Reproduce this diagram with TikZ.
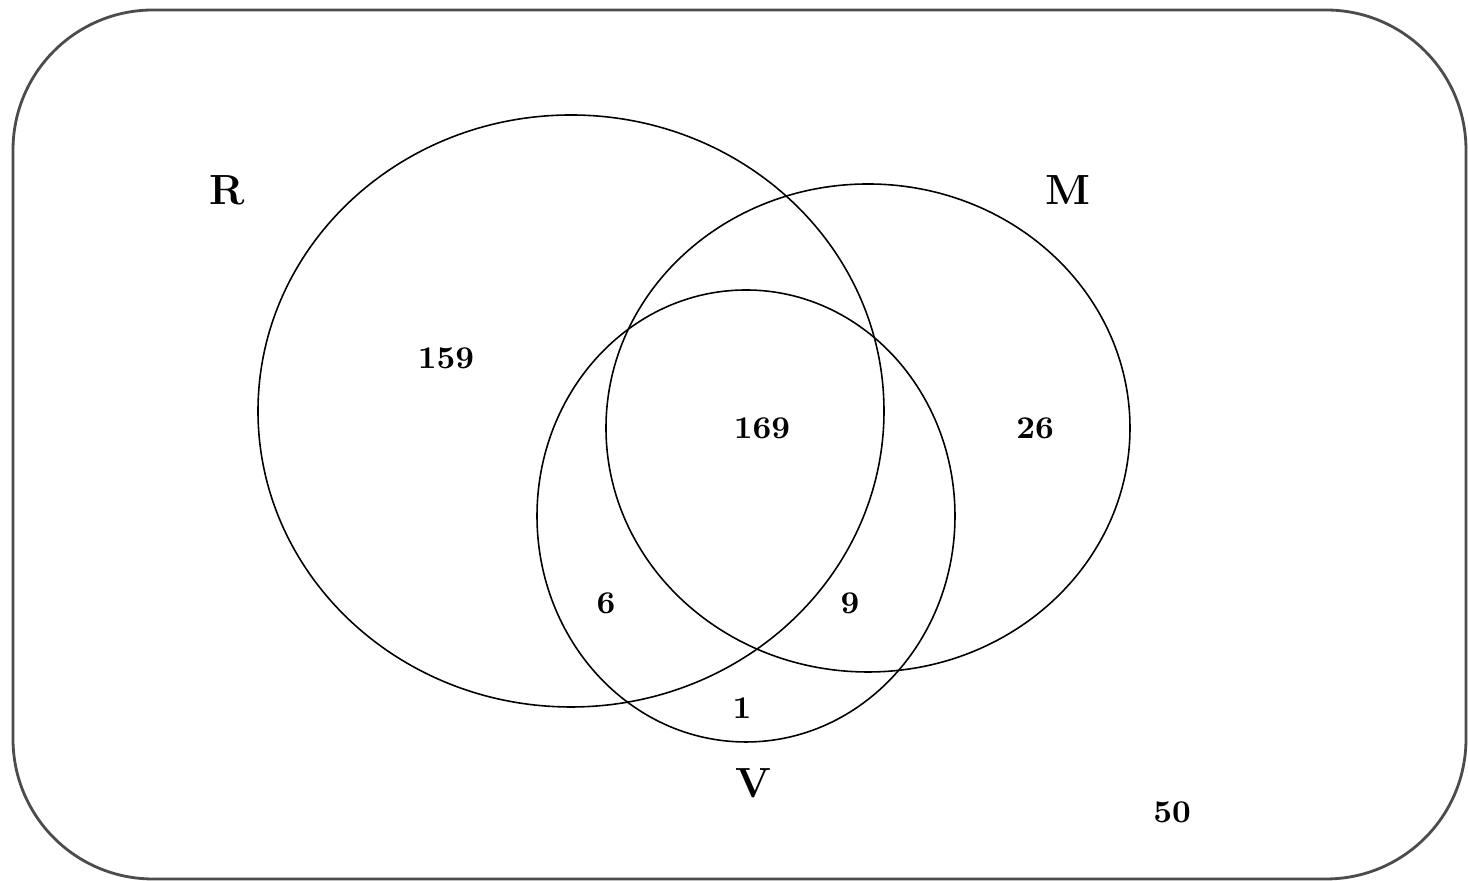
\documentclass[tikz,border=0pt]{standalone}
\usepackage{tikz}
\usetikzlibrary{positioning}

\begin{document}
\begin{tikzpicture}[
  setline/.style={draw=black, line width=0.45pt},
  setname/.style={font=\fontsize{12}{14}\selectfont\bfseries, inner sep=0pt},
  count/.style={font=\fontsize{9}{11}\selectfont\bfseries, inner sep=0pt}
]
  \useasboundingbox (0,0) rectangle (14.68,8.81);
  % universe
  \draw[draw=black!70, line width=0.8pt, rounded corners=1.4cm]
    (0.13,0.02) rectangle (14.66,8.71);
  % sets
  \coordinate (cR) at (5.71, 4.70);
  \coordinate (cM) at (8.68, 4.53);
  \coordinate (cV) at (7.46, 3.65);
  \draw[setline] (cR) ellipse [x radius=3.13, y radius=2.96];
  \draw[setline] (cM) ellipse [x radius=2.62, y radius=2.44];
  \draw[setline] (cV) ellipse [x radius=2.09, y radius=2.26];
  % set names
  \node[setname] (nR) at (2.27, 6.91) {R};
  \node[setname] (nM) at (10.68, 6.91) {M};
  \node[setname] (nV) at (7.53, 0.98) {V};
  % region counts
  \node[count] (rOnly)  at (4.46, 5.23) {159};
  \node[count] (rmv)    at (7.62, 4.53) {169};
  \node[count] (mOnly)  at (10.35, 4.53) {26};
  \node[count] (rv)     at (6.06, 2.78) {6};
  \node[count] (mv)     at (8.50, 2.78) {9};
  \node[count] (vOnly)  at (7.42, 1.73) {1};
  \node[count] (none)   at (11.72, 0.69) {50};
\end{tikzpicture}
\end{document}
